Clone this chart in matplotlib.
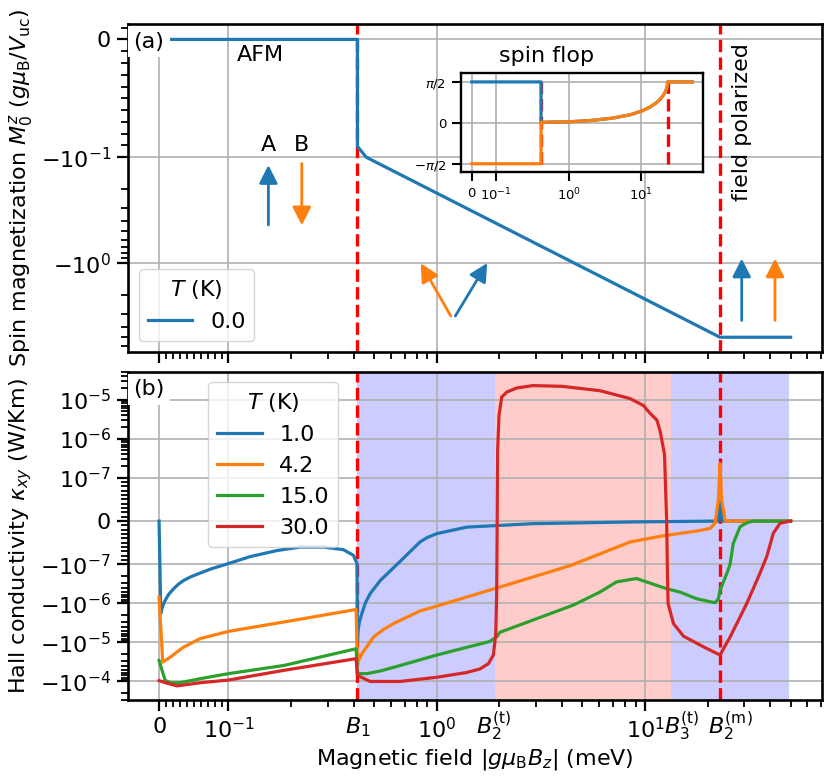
import numpy as np
import matplotlib
matplotlib.use('Agg')
import matplotlib.pyplot as plt
from matplotlib import ticker

plt.rcParams.update({
    'font.size': 16,
    'axes.linewidth': 1.9,
    'lines.linewidth': 2.3,
    'xtick.major.size': 8, 'ytick.major.size': 8,
    'xtick.minor.size': 4.7, 'ytick.minor.size': 4.7,
    'xtick.major.width': 1.6, 'ytick.major.width': 1.6,
    'xtick.minor.width': 1.3, 'ytick.minor.width': 1.3,
    'xtick.major.pad': 4, 'ytick.major.pad': 4,
    'grid.color': '#b0b0b0', 'grid.linewidth': 1.2,
})

# special fields (meV)
B_1 = 0.416
B_2t = 1.91
B_3t = 13.3
B_2m = 22.9
B_shade_end = 49.2

b_label_pos = [0.42, 1.89, 15.1, 25.6]
b_labels = [r'$B_1$', r'$B_2^{(\mathrm{t})}$', r'$B_3^{(\mathrm{t})}$', r'$B_2^{(\mathrm{m})}$']

# (a) spin magnetization at T = 0
mag_field = [0.0, 0.416, 0.416, 0.458, 22.9, 50.0]
mag_T0 = [0.0, 0.0, -0.0908, -0.1, -5.0, -5.0]

# inset: sublattice angles
flop_field = [0.0, 0.416, 0.416, 0.6, 1.0, 2.0, 4.0, 7.0, 10.0, 13.0, 16.0, 18.0,
              20.0, 21.5, 22.3, 22.7, 22.9, 50.0]
flop_angle_A = [1.571, 1.571, 0.02, 0.03, 0.04, 0.09, 0.18, 0.31, 0.45, 0.60, 0.77, 0.90,
                1.06, 1.22, 1.34, 1.44, 1.571, 1.571]
flop_angle_B = [-1.571, -1.571, 0.02, 0.03, 0.04, 0.09, 0.18, 0.31, 0.45, 0.60, 0.77, 0.90,
                1.06, 1.22, 1.34, 1.44, 1.571, 1.571]

# (b) thermal Hall conductivity (W/Km)
temps = ['1.0', '4.2', '15.0', '30.0']

field_1 = [0.0, 0.0025, 0.005, 0.0087, 0.014, 0.021, 0.028, 0.035, 0.045, 0.059, 0.075, 0.1,
           0.127, 0.171, 0.221, 0.286, 0.356, 0.398, 0.414, 0.416, 0.42, 0.425, 0.437, 0.455,
           0.479, 0.535, 0.667, 0.832, 0.9, 1.0, 1.39, 2.9, 8.8, 22.4, 22.9, 23.4, 50.0]
kxy_1 = [0.0, -1.8e-6, -1.2e-6, -8.4e-7, -5.8e-7, -4.2e-7, -3.2e-7, -2.6e-7, -2.1e-7,
         -1.67e-7, -1.3e-7, -9.8e-8, -8.2e-8, -6.8e-8, -6.0e-8, -6.0e-8, -6.6e-8, -7.9e-8,
         -9.8e-8, -8.9e-6, -4.5e-6, -3.0e-6, -1.8e-6, -9.5e-7, -5.6e-7, -2.6e-7, -9.3e-8,
         -4.8e-8, -3.8e-8, -2.9e-8, -1.4e-8, -6e-9, -2e-9, 0.0, 6e-8, 0.0, 0.0]

field_4 = [0.0, 0.0053, 0.016, 0.025, 0.035, 0.059, 0.1, 0.184, 0.41, 0.416, 0.437, 0.497,
           0.55, 0.619, 0.832, 0.964, 2.01, 4.4, 8.5, 12.2, 17.7, 20.5, 21.7, 22.5, 22.9,
           23.3, 24.3, 50.0]
kxy_4 = [-6.9e-7, -3.2e-5, -2.4e-5, -1.8e-5, -1.33e-5, -8.0e-6, -5.2e-6, -3.0e-6, -1.43e-6,
         -3.3e-5, -1.95e-5, -7.3e-6, -4.8e-6, -3.3e-6, -1.55e-6, -1.24e-6, -3.8e-7, -1.06e-7,
         -4.8e-8, -3.4e-8, -2.3e-8, -1.7e-8, -5e-9, 5e-8, 2.3e-7, 5e-8, 0.0, 0.0]

field_15 = [0.0, 0.0087, 0.016, 0.03, 0.059, 0.1, 0.184, 0.41, 0.416, 0.462, 0.535, 0.667,
            1.0, 1.8, 1.95, 2.01, 4.53, 6.08, 7.3, 9.1, 12.7, 14.7, 17.7, 21.7, 22.5, 22.9,
            24.7, 25.6, 26.5, 28.6, 30.8, 33.0, 50.0]
kxy_15 = [-2.9e-5, -9.3e-5, -1.08e-4, -1.08e-4, -8.5e-5, -6.3e-5, -3.9e-5, -1.45e-5, -6.3e-5,
          -6.3e-5, -5.4e-5, -3.9e-5, -2.1e-5, -9.4e-6, -7e-6, -5.5e-6, -1.1e-6, -5.1e-7,
          -2.8e-7, -2.3e-7, -4.2e-7, -5.1e-7, -7.6e-7, -9.6e-7, -7.6e-7, -4.6e-7, -1.7e-7,
          -1.0e-7, -5.2e-8, -1.3e-8, -4e-9, 0.0, 0.0]

field_30 = [0.0, 0.011, 0.026, 0.059, 0.1, 0.184, 0.41, 0.416, 0.479, 0.667, 1.0, 1.39, 1.61,
            1.77, 1.87, 1.92, 1.94, 1.95, 1.96, 1.99, 2.05, 2.17, 2.42, 2.9, 4.0, 6.08, 8.47,
            9.82, 10.6, 11.4, 11.8, 12.4, 12.7, 12.8, 12.9, 13.7, 15.3, 19.1, 22.9, 25.6,
            30.8, 35.6, 38.4, 41.3, 44.5, 49.7, 50.0]
kxy_30 = [-9.5e-5, -1.1e-4, -1.3e-4, -1.08e-4, -9.2e-5, -5.2e-5, -2.6e-5, -7e-5, -1e-4, -1e-4,
          -7.8e-5, -5.9e-5, -4.8e-5, -3.5e-5, -2.1e-5, -6e-6, -5e-7, 0.0, 5e-7, 4e-6, 1.17e-5,
          1.57e-5, 2.0e-5, 2.3e-5, 2.2e-5, 1.7e-5, 1.07e-5, 7.1e-6, 4.4e-6, 3.0e-6, 1.6e-6,
          4e-7, 0.0, -1.3e-7, -1e-6, -3.3e-6, -6.9e-6, -1.3e-5, -2.1e-5, -7.3e-6, -1e-6,
          -1.7e-7, -8.2e-8, -2.8e-8, -5e-9, 0.0, 0.0]

kxy_fields = [field_1, field_4, field_15, field_30]
kxy_values = [kxy_1, kxy_4, kxy_15, kxy_30]
colors = ['tab:blue', 'tab:orange', 'tab:green', 'tab:red']


def minor_ticks(linthresh, decades, positive_only=False):
    ticks = [k * linthresh / 10 for k in range(1, 10)]
    for d in decades:
        ticks += [m * 10.0**d for m in range(2, 10)]
    if not positive_only:
        ticks = [-t for t in ticks] + ticks
    return sorted(ticks)


fig, (ax1, ax2) = plt.subplots(2, 1, sharex=True, figsize=(8.3, 7.77), dpi=100)
fig.subplots_adjust(left=0.154, right=0.990, top=0.969, bottom=0.099, hspace=0.061)

ax2.set_xscale('symlog', linthresh=0.1, linscale=0.3)
ax2.xaxis.set_minor_locator(ticker.FixedLocator(minor_ticks(0.1, range(-1, 2), True)))
ax2.set_xlim(-0.045, 70.5)

# ---- (a)
ax1.set_yscale('symlog', linthresh=0.1, linscale=1)
ax1.yaxis.set_minor_locator(ticker.FixedLocator(minor_ticks(0.1, range(-1, 1))))
for b in [B_1, B_2m]:
    ax1.axvline(b, color='red', ls='--', lw=2.4)
ax1.plot(mag_field, mag_T0, color='tab:blue', label='0.0')
ax1.set_ylim(-6.9, 0.013)
ax1.grid(True)
ax1.set_ylabel(r'Spin magnetization $M_0^z$ ($g\mu_\mathrm{B}/V_\mathrm{uc}$)')
ax1.legend(title='$T$ (K)', loc='lower left')
ax1.text(0.008, 0.946, '(a)', transform=ax1.transAxes, va='center',
         bbox=dict(facecolor='white', edgecolor='none'))
ax1.text(0.191, 0.905, 'AFM', transform=ax1.transAxes, ha='center', va='center')
ax1.text(0.604, 0.902, 'spin flop', transform=ax1.transAxes, ha='center', va='center')
ax1.text(0.885, 0.702, 'field polarized', transform=ax1.transAxes, ha='center', va='center',
         rotation=90)
ax1.text(0.2026, 0.631, 'A', transform=ax1.transAxes, ha='center', va='center')
ax1.text(0.2507, 0.631, 'B', transform=ax1.transAxes, ha='center', va='center')

arrows = [((0.2026, 0.3875), (0.2026, 0.570), 'tab:blue'),
          ((0.2507, 0.575), (0.2507, 0.3866), 'tab:orange'),
          ((0.4654, 0.110), (0.4222, 0.2707), 'tab:orange'),
          ((0.472, 0.110), (0.518, 0.2716), 'tab:blue'),
          ((0.8847, 0.0967), (0.8847, 0.285), 'tab:blue'),
          ((0.9327, 0.0967), (0.9327, 0.285), 'tab:orange')]
for tail, tip, c in arrows:
    ax1.annotate('', xy=tip, xytext=tail, xycoords='axes fraction',
                 arrowprops=dict(arrowstyle='-|>,head_length=0.55,head_width=0.28',
                                 color=c, lw=2, mutation_scale=20, shrinkA=0, shrinkB=0))

# inset
axin = fig.add_axes([0.5551, 0.7782, 0.2923, 0.1274])
axin.set_xscale('symlog', linthresh=0.1, linscale=0.3)
axin.xaxis.set_minor_locator(ticker.NullLocator())
axin.vlines([B_1, B_2m], -np.pi / 2, np.pi / 2, color='red', ls='--', lw=2.4)
axin.plot(flop_field, flop_angle_A, color='tab:blue')
axin.plot(flop_field, flop_angle_B, color='tab:orange')
axin.set_yticks([-np.pi / 2, 0, np.pi / 2], [r'$-\pi/2$', '0', r'$\pi/2$'])
axin.set_ylim(-1.9, 1.9)
axin.tick_params(labelsize=9.5, length=6.5, width=1.5)
for s in axin.spines.values():
    s.set_linewidth(1.7)
axin.grid(True)

# ---- (b)
ax2.set_yscale('symlog', linthresh=1e-7, linscale=1)
ax2.yaxis.set_minor_locator(ticker.FixedLocator(minor_ticks(1e-7, range(-7, -3))))
ax2.axvspan(B_1, B_2t, color='blue', alpha=0.2, lw=0)
ax2.axvspan(B_2t, B_3t, color='red', alpha=0.2, lw=0)
ax2.axvspan(B_3t, B_shade_end, color='blue', alpha=0.2, lw=0)
for b in [B_1, B_2m]:
    ax2.axvline(b, color='red', ls='--', lw=2.4)
for f, k, c, t in zip(kxy_fields, kxy_values, colors, temps):
    ax2.plot(f, k, color=c, label=t)
ax2.set_ylim(-3.0e-4, 5.1e-5)
ax2.grid(True)
ax2.set_ylabel(r'Hall conductivity $\kappa_{xy}$ (W/Km)')
ax2.set_xlabel(r'Magnetic field $|g\mu_\mathrm{B}B_z|$ (meV)')
ax2.legend(title='$T$ (K)', loc='upper left', bbox_to_anchor=(0.116, 0.97), borderaxespad=0)
ax2.text(0.008, 0.947, '(b)', transform=ax2.transAxes, va='center',
         bbox=dict(facecolor='white', edgecolor='none'))
for xp, lab in zip(b_label_pos, b_labels):
    ax2.text(xp, -0.1015, lab, transform=ax2.get_xaxis_transform(), ha='center', va='baseline')

fig.savefig('out.png', dpi=100)
